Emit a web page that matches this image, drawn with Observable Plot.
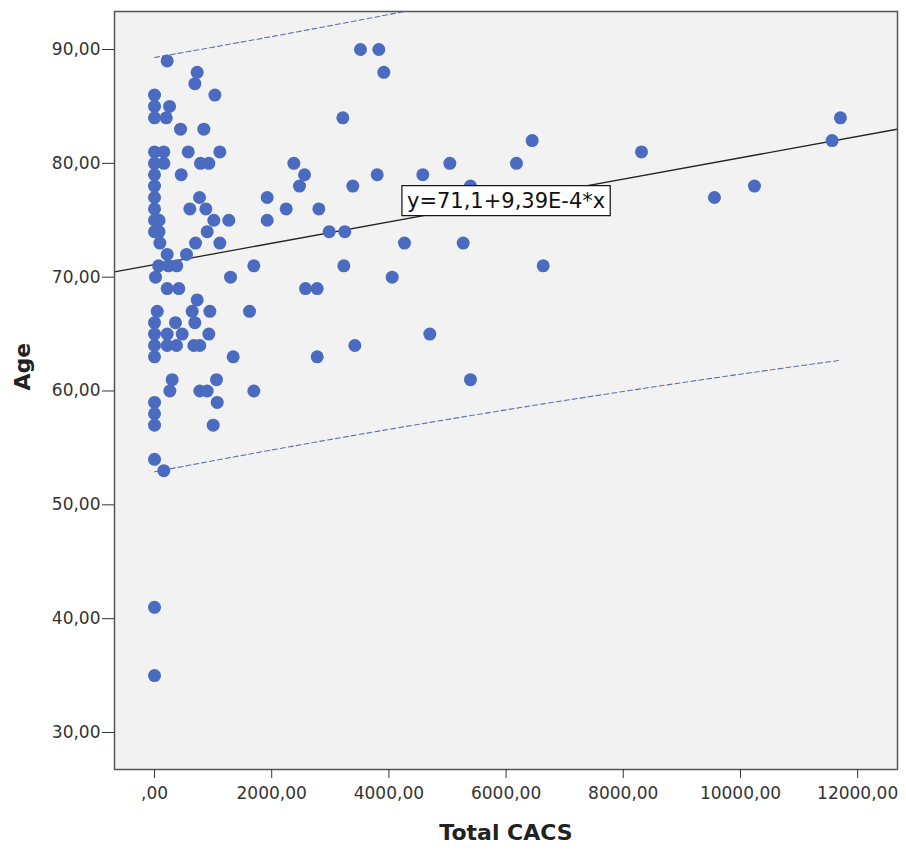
<!DOCTYPE html>
<html>
<head>
<meta charset="utf-8">
<script src="https://cdn.jsdelivr.net/npm/d3@7"></script>
<script src="https://cdn.jsdelivr.net/npm/@observablehq/plot@0.6"></script>
<style>
  html, body { margin: 0; padding: 0; background: #fff; }
  #chart { width: 906px; height: 850px; }
</style>
</head>
<body>
<div id="chart"></div>
<script>
// Total CACS (x) and Age (y) for each patient
const cacs = [
  0, 0, 0, 256, 200, 216, 728, 688, 1030, 444, 842,
  3515, 3828, 3913, 3214,
  0, 159, 0, 159, 575, 1115, 785, 927, 455,
  2378, 2560, 2474, 3384, 3800,
  0, 0, 0, 0, 0, 0, 77, 77, 91,
  768, 603, 876, 1923, 1923, 2247, 2804, 1012, 1268, 899, 700, 1115, 2981, 3248, 216, 546,
  70, 240, 380, 1695, 3231, 6633, 4056, 4266, 5268,
  17, 1297, 216, 415, 2577, 2776, 728, 46, 643, 944, 1621,
  0, 358, 688, 0, 216, 472, 927, 0, 216, 375, 671, 773, 3419,
  0, 1342, 2776, 301, 1058, 262, 773, 899, 1695, 1070, 0, 0, 0, 1001, 0, 159, 0, 0,
  4698, 5392, 6445, 8311, 5040, 6177, 4579, 5392, 11706, 11564, 10239, 9556
];
const age = [
  86, 85, 84, 85, 84, 89, 88, 87, 86, 83, 83,
  90, 90, 88, 84,
  81, 81, 80, 80, 81, 81, 80, 80, 79,
  80, 79, 78, 78, 79,
  79, 78, 77, 76, 75, 74, 75, 74, 73,
  77, 76, 76, 77, 75, 76, 76, 75, 75, 74, 73, 73, 74, 74, 72, 72,
  71, 71, 71, 71, 71, 71, 70, 73, 73,
  70, 70, 69, 69, 69, 69, 68, 67, 67, 67, 67,
  66, 66, 66, 65, 65, 65, 65, 64, 64, 64, 64, 64, 64,
  63, 63, 63, 61, 61, 60, 60, 60, 60, 59, 59, 58, 57, 57, 54, 53, 41, 35,
  65, 61, 82, 81, 80, 80, 79, 78, 84, 82, 78, 77
];

// Fit line as printed on the chart: y = 71,1 + 9,39E-4 * x
const intercept = 71.1;
const slope = 9.39e-4;
const equationText = "y=71,1+9,39E-4*x";
const labelX = 6000;   // data position of the equation label
const labelY = 76.7;
// half-width of the 95% prediction band at CACS = 0
const bandHalfWidthAtZero = 18.2;

// Axis ticks and domains
const xTicks = [0, 2000, 4000, 6000, 8000, 10000, 12000];
const yTicks = [30, 40, 50, 60, 70, 80, 90];
const xDomain = [-683, 12680];
const yDomain = [26.75, 93.34];

const fmt = d => d === 0 ? ",00" : d.toFixed(2).replace(".", ",");

const data = cacs.map((c, i) => ({x: c, y: age[i]}));

// 95% prediction interval shape from the data around the fit line
const n = data.length;
const xbar = d3.mean(cacs);
const sxx = d3.sum(cacs, c => (c - xbar) ** 2);
const tval = 1.977;
const s = bandHalfWidthAtZero / (tval * Math.sqrt(1 + 1 / n + xbar ** 2 / sxx));
const xmin = d3.min(cacs), xmax = d3.max(cacs);
const band = d3.range(0, 61).map(i => {
  const x = xmin + (xmax - xmin) * i / 60;
  const fit = intercept + slope * x;
  const h = tval * s * Math.sqrt(1 + 1 / n + (x - xbar) ** 2 / sxx);
  return {x, lo: fit - h, hi: fit + h};
});
const fitLine = xDomain.map(x => ({x, y: intercept + slope * x}));

const plot = Plot.plot({
  width: 906,
  height: 850,
  marginLeft: 114,
  marginTop: 11,
  marginRight: 9,
  marginBottom: 81,
  style: {fontFamily: "DejaVu Sans", fontSize: "17px", background: "#fff"},
  x: {domain: xDomain},
  y: {domain: yDomain},
  marks: [
    Plot.frame({fill: "#f2f2f2"}),
    Plot.line(band, {x: "x", y: "hi", stroke: "#5f70b0", strokeWidth: 1.1, strokeDasharray: "5,3", clip: true}),
    Plot.line(band, {x: "x", y: "lo", stroke: "#5f70b0", strokeWidth: 1.1, strokeDasharray: "5,3", clip: true}),
    Plot.line(fitLine, {x: "x", y: "y", stroke: "#222", strokeWidth: 1.3, clip: true}),
    Plot.dot(data, {x: "x", y: "y", r: 6.5, fill: "#4a6bbf", stroke: "none"}),
    Plot.text([equationText], {x: () => labelX, y: () => labelY, text: d => d, fontSize: 21, fill: "#111", className: "eqlabel"}),
    Plot.frame({stroke: "#555", strokeWidth: 1.5}),
    Plot.axisX({ticks: xTicks, tickFormat: fmt, tickSize: 9, tickPadding: 8, fontSize: 17, fill: "#333", stroke: "#333", label: null}),
    Plot.axisY({ticks: yTicks, tickFormat: fmt, tickSize: 12, tickPadding: 2, fontSize: 17, fill: "#333", stroke: "#333", label: null}),
    Plot.text(["Total CACS"], {frameAnchor: "bottom", dy: 63, lineAnchor: "middle", text: d => d, fontSize: 22, fontWeight: "bold", fill: "#222"}),
    Plot.text(["Age"], {frameAnchor: "left", dx: -92, rotate: -90, lineAnchor: "middle", text: d => d, fontSize: 22, fontWeight: "bold", fill: "#222"})
  ]
});

document.getElementById("chart").appendChild(plot);

// white box with black border behind the equation label
const g = plot.querySelector(".eqlabel");
if (g) {
  g.querySelectorAll("text").forEach(t => {
    const b = t.getBBox();
    const r = document.createElementNS("http://www.w3.org/2000/svg", "rect");
    r.setAttribute("x", b.x - 5);
    r.setAttribute("y", b.y - 3);
    r.setAttribute("width", b.width + 10);
    r.setAttribute("height", b.height + 6);
    r.setAttribute("fill", "#fff");
    r.setAttribute("stroke", "#111");
    r.setAttribute("stroke-width", "1.2");
    const tr = t.getAttribute("transform");
    if (tr) r.setAttribute("transform", tr);
    t.parentNode.insertBefore(r, t);
  });
}
</script>
</body>
</html>
